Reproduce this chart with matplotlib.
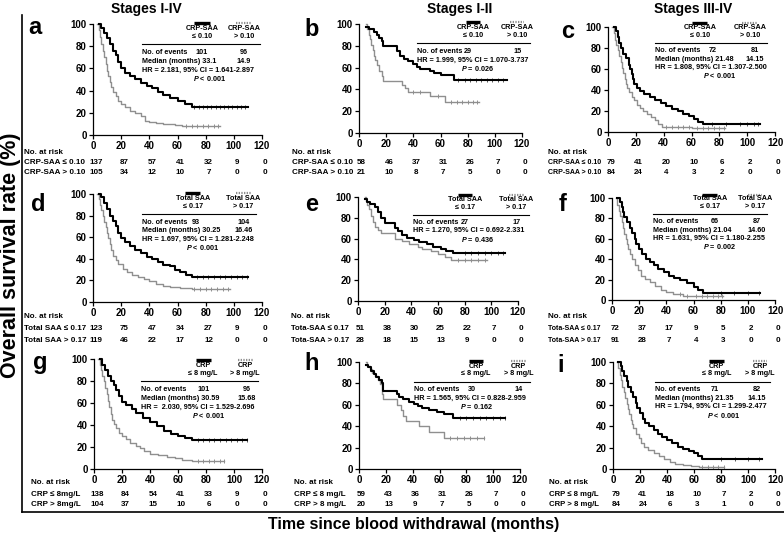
import numpy as np
import matplotlib
matplotlib.use("Agg")
import matplotlib.pyplot as plt
from matplotlib import font_manager, transforms
from matplotlib.lines import Line2D

# -- fonts -------------------------------------------------------------
_names = {f.name for f in font_manager.fontManager.ttflist}
FAM = "Liberation Sans Narrow" if "Liberation Sans Narrow" in _names else "Liberation Sans"
plt.rcParams["font.family"] = [FAM, "DejaVu Sans"]
plt.rcParams["font.weight"] = "bold"
plt.rcParams["mathtext.fontset"] = "custom"
plt.rcParams["mathtext.it"] = f"{FAM}:italic:bold"
plt.rcParams["mathtext.rm"] = f"{FAM}:bold"

W, H = 784, 535
GRAY = "#8f8f8f"

# -- data: step curves -------------------------------------------------
TICKS = [0, 20, 40, 60, 80, 100, 120]

# a: CRP-SAA, stages I-IV
a_low_t = [4, 6, 8, 10, 12, 14, 16, 18, 20, 23, 26, 30, 34, 38, 42, 46, 50, 55, 60, 65, 70, 110]
a_low_s = [100, 96, 92, 87, 82, 76, 72, 66, 60, 56, 53, 50, 47, 44, 42, 39, 36, 33, 31, 28, 25.5, 25.5]
a_high_t = [3, 4, 5, 6, 7, 8, 9, 10, 11, 12, 13, 14, 16, 18, 20, 23, 26, 30, 34, 37, 40, 45, 50, 58, 63, 90]
a_high_s = [100, 95, 88, 82, 76, 70, 64, 58, 53, 48, 43, 39, 35, 31, 28, 25, 22, 20, 17, 13, 12, 11, 10, 9, 8, 8]
a_low_cens = [72, 75, 78, 81, 84, 87, 90, 93, 96, 99, 102, 105, 108]
a_high_cens = [66, 70, 74, 78, 82, 86, 89]
a_risk_low = [137, 87, 57, 41, 32, 9, 0]
a_risk_high = [105, 34, 12, 10, 7, 0, 0]

# b: CRP-SAA, stages I-II
b_low_t = [5, 7, 11, 13, 15, 17, 18, 28, 30, 33, 36, 40, 43, 45, 52, 55, 60, 70, 109]
b_low_s = [97, 95, 93, 90, 87, 84, 80, 75, 71, 68, 66, 63, 61, 59, 57, 55, 53, 49, 49]
b_high_t = [5, 6, 7, 8, 9, 10, 11, 12, 13, 15, 17, 18, 32, 34, 36, 52, 63, 88]
b_high_s = [100, 95, 90, 86, 81, 76, 71, 67, 62, 57, 52, 48, 44, 41, 38, 34, 28.5, 28.5]
b_low_cens = [73, 78, 82, 86, 90, 94, 98, 102, 106]
b_high_cens = [40, 45, 58, 68, 72, 76, 80, 84, 87]
b_risk_low = [58, 46, 37, 31, 26, 7, 0]
b_risk_high = [21, 10, 8, 7, 5, 0, 0]

# c: CRP-SAA, stages III-IV
c_low_t = [4, 6, 7, 8, 9, 11, 13, 15, 16, 17, 18, 19, 21, 23, 26, 30, 34, 38, 42, 46, 50, 54, 58, 62, 65, 68, 109]
c_low_s = [100, 96, 90, 85, 80, 74, 70, 64, 60, 55, 50, 46, 42, 39, 36, 33, 30, 28, 25, 22, 20, 17, 15, 12, 10, 8, 8]
c_high_t = [3, 4, 5, 6, 7, 8, 9, 10, 11, 12, 13, 14, 15, 17, 19, 21, 23, 25, 28, 31, 34, 36, 39, 60, 84]
c_high_s = [100, 94, 88, 83, 78, 72, 67, 61, 56, 50, 46, 42, 38, 33, 30, 26, 23, 20, 17, 14, 11, 8, 5, 3.5, 3.5]
c_low_cens = [75, 85, 95, 100, 105, 108]
c_high_cens = [42, 46, 50, 54, 58, 64, 68, 72, 76, 80, 83]
c_risk_low = [79, 41, 20, 10, 6, 2, 0]
c_risk_high = [84, 24, 4, 3, 2, 0, 0]

# d: Total SAA, stages I-IV
d_low_t = [4, 6, 8, 10, 12, 14, 16, 18, 20, 23, 26, 30, 34, 38, 42, 46, 50, 55, 58, 62, 66, 70, 110]
d_low_s = [100, 97, 92, 86, 80, 75, 70, 64, 59, 56, 52, 48, 45, 42, 40, 37, 34, 33, 30, 28, 25, 23, 23]
d_high_t = [3, 4, 5, 6, 7, 8, 9, 10, 11, 12, 13, 14, 16, 18, 21, 24, 28, 32, 36, 40, 45, 50, 55, 62, 70, 97]
d_high_s = [100, 95, 90, 85, 80, 74, 69, 64, 59, 54, 48, 43, 39, 35, 31, 28, 25, 23, 21, 19, 17, 15, 14, 13, 12, 12]
d_low_cens = [74, 78, 82, 86, 90, 94, 98, 102, 106, 109]
d_high_cens = [72, 76, 80, 84, 88, 92, 96]
d_risk_low = [123, 75, 47, 34, 27, 9, 0]
d_risk_high = [119, 46, 22, 17, 12, 0, 0]

# e: Total SAA, stages I-II
e_low_t = [5, 7, 9, 13, 15, 17, 20, 28, 30, 33, 37, 42, 46, 52, 56, 62, 66, 71, 110]
e_low_s = [98, 95, 93, 90, 86, 80, 75, 70, 67, 63, 61, 59, 57, 55, 52, 50, 48, 46, 46]
e_high_t = [5, 6, 7, 8, 10, 11, 13, 15, 17, 28, 33, 38, 45, 48, 55, 60, 65, 70, 97]
e_high_s = [100, 96, 92, 88, 82, 76, 71, 68, 65, 60, 58, 55, 52, 50, 48, 45, 42, 39, 39]
e_low_cens = [80, 85, 90, 95, 100, 105, 109]
e_high_cens = [75, 80, 85, 90, 95]
e_risk_low = [51, 38, 30, 25, 22, 7, 0]
e_risk_high = [28, 18, 15, 13, 9, 0, 0]

# f: Total SAA, stages III-IV
f_low_t = [4, 6, 7, 8, 9, 11, 13, 15, 17, 18, 20, 22, 25, 28, 31, 34, 38, 42, 46, 50, 55, 60, 63, 67, 109]
f_low_s = [100, 96, 91, 86, 81, 76, 71, 66, 60, 55, 50, 45, 40, 37, 34, 30, 27, 24, 22, 20, 17, 13, 10, 7, 7]
f_high_t = [3, 4, 5, 6, 7, 8, 9, 10, 11, 12, 13, 15, 17, 19, 21, 24, 28, 32, 36, 40, 45, 52, 60, 82]
f_high_s = [100, 93, 87, 82, 76, 71, 65, 60, 55, 50, 45, 40, 34, 29, 24, 21, 18, 14, 10, 8, 6, 4, 3.5, 3.5]
f_low_cens = [80, 90, 100, 108]
f_high_cens = [50, 55, 62, 66, 70, 74, 78, 81]
f_risk_low = [72, 37, 17, 9, 5, 2, 0]
f_risk_high = [91, 28, 7, 4, 3, 0, 0]

# g: CRP, stages I-IV
g_low_t = [4, 6, 8, 10, 12, 14, 16, 18, 20, 23, 27, 30, 35, 40, 45, 50, 55, 60, 65, 70, 109]
g_low_s = [100, 95, 90, 85, 80, 76, 72, 66, 61, 58, 55, 51, 46, 43, 39, 35, 32, 30, 28, 26, 26]
g_high_t = [3, 4, 5, 6, 7, 8, 9, 10, 11, 12, 13, 14, 16, 18, 20, 23, 26, 30, 33, 36, 40, 46, 52, 58, 63, 70, 93]
g_high_s = [100, 95, 90, 85, 80, 74, 68, 62, 56, 50, 45, 41, 37, 33, 30, 27, 24, 21, 19, 16, 14, 13, 11, 10, 8, 7, 7]
g_low_cens = [74, 78, 82, 86, 90, 94, 98, 102, 106, 109]
g_high_cens = [74, 78, 82, 86, 90, 93]
g_risk_low = [138, 84, 54, 41, 33, 9, 0]
g_risk_high = [104, 37, 15, 10, 6, 0, 0]

# h: CRP, stages I-II
h_low_t = [5, 7, 9, 11, 13, 15, 17, 18, 28, 30, 33, 37, 41, 44, 47, 52, 58, 63, 70, 109]
h_low_s = [97, 95, 92, 89, 86, 83, 80, 73, 70, 67, 65, 63, 61, 59, 57, 55, 53, 51, 48, 48]
h_high_t = [5, 6, 8, 10, 12, 14, 16, 17, 18, 28, 31, 33, 35, 45, 52, 63, 93]
h_high_s = [100, 96, 93, 90, 87, 83, 79, 70, 65, 60, 55, 50, 45, 40, 35, 29, 29]
h_low_cens = [75, 80, 85, 90, 95, 100, 105, 109]
h_high_cens = [68, 73, 78, 83, 88, 93]
h_risk_low = [59, 43, 36, 31, 26, 7, 0]
h_risk_high = [20, 13, 9, 7, 5, 0, 0]

# i: CRP, stages III-IV
i_low_t = [4, 6, 7, 8, 10, 11, 13, 15, 17, 18, 20, 22, 24, 27, 30, 33, 36, 40, 44, 48, 52, 56, 60, 63, 66, 110]
i_low_s = [100, 96, 92, 87, 82, 77, 72, 67, 62, 57, 52, 47, 43, 40, 36, 33, 30, 27, 24, 21, 19, 17, 15, 12, 9, 9]
i_high_t = [3, 4, 5, 6, 7, 8, 9, 10, 11, 12, 13, 14, 15, 17, 19, 21, 23, 26, 30, 34, 38, 42, 46, 52, 58, 64, 82]
i_high_s = [100, 94, 88, 83, 77, 72, 66, 61, 56, 51, 46, 42, 38, 33, 29, 24, 21, 18, 15, 12, 9, 7, 5, 4, 3, 1.5, 1.5]
i_low_cens = [80, 90, 100, 108]
i_high_cens = [66, 70, 74, 78, 82]
i_risk_low = [79, 41, 18, 10, 7, 2, 0]
i_risk_high = [84, 24, 6, 3, 1, 0, 0]

# -- texts -------------------------------------------------------------
GROUP_LOW = ["CRP-SAA\n\u2264 0.10", "Total SAA\n\u2264 0.17", "CRP\n\u2264 8 mg/L"]
GROUP_HIGH = ["CRP-SAA\n> 0.10", "Total SAA\n> 0.17", "CRP\n> 8 mg/L"]
RISK_LABELS = {
    "a": ("CRP-SAA \u2264 0.10", "CRP-SAA > 0.10"),
    "b": ("CRP-SAA \u2264 0.10", "CRP-SAA > 0.10"),
    "c": ("CRP-SAA \u2264 0.10", "CRP-SAA > 0.10"),
    "d": ("Total SAA \u2264 0.17", "Total SAA > 0.17"),
    "e": ("Tota-SAA \u2264 0.17", "Tota-SAA > 0.17"),
    "f": ("Tota-SAA \u2264 0.17", "Tota-SAA > 0.17"),
    "g": ("CRP \u2264 8mg/L", "CRP > 8mg/L"),
    "h": ("CRP \u2264 8 mg/L", "CRP > 8 mg/L"),
    "i": ("CRP \u2264 8 mg/L", "CRP > 8 mg/L"),
}
EVENTS = {"a": (101, 96), "b": (29, 15), "c": (72, 81), "d": (93, 104), "e": (27, 17),
          "f": (66, 87), "g": (101, 96), "h": (30, 14), "i": (71, 82)}
MEDIANS = {"a": ("33.1", "14.9"), "c": ("21.48", "14.15"), "d": ("30.25", "16.46"),
           "f": ("21.04", "14.60"), "g": ("30.59", "15.68"), "i": ("21.35", "14.15")}
HR_TEXT = {
    "a": "HR = 2.181, 95% CI = 1.641-2.897",
    "b": "HR = 1.999, 95% CI = 1.070-3.737",
    "c": "HR = 1.808, 95% CI = 1.307-2.500",
    "d": "HR = 1.697, 95% CI = 1.281-2.248",
    "e": "HR = 1.270, 95% CI = 0.692-2.331",
    "f": "HR = 1.631, 95% CI = 1.180-2.255",
    "g": "HR =  2.030, 95% CI = 1.529-2.696",
    "h": "HR = 1.565, 95% CI = 0.828-2.959",
    "i": "HR = 1.794, 95% CI = 1.299-2.477",
}
P_TEXT = {"a": "< 0.001", "b": "= 0.026", "c": "< 0.001", "d": "< 0.001", "e": "= 0.436",
          "f": "= 0.002", "g": "< 0.001", "h": "= 0.162", "i": "< 0.001"}
STAGES = ["Stages I-IV", "Stages I-II", "Stages III-IV"]

# -- layout (pixels in the 784x535 picture) ---------------------------
# axes box: x at t=0, x at t=120, y at 100 %, y at 0 %
BOX = {"a": (93, 262, 24, 135), "b": (359, 522, 24, 133), "c": (608, 775, 27, 132),
       "d": (93, 262, 194, 302), "e": (358, 518, 197, 301), "f": (612, 775, 198, 300),
       "g": (94, 262, 359, 469), "h": (359, 520, 362, 469), "i": (613, 775, 362, 469)}
# stats block in axes fractions:
# left, rule right, legend col1, legend col2, value col1, value col2, P centre, rule y
BLOCK = {"a": (0.29, 0.99, 0.645, 0.893, 0.645, 0.893, 0.69, 0.82),
         "b": (0.356, 1.05, 0.70, 0.97, 0.67, 0.97, 0.73, 0.826),
         "c": (0.28, 0.95, 0.55, 0.85, 0.63, 0.88, 0.67, 0.85),
         "d": (0.288, 0.965, 0.59, 0.89, 0.61, 0.89, 0.65, 0.815),
         "e": (0.345, 1.07, 0.67, 0.99, 0.67, 0.99, 0.75, 0.83),
         "f": (0.25, 0.95, 0.60, 0.877, 0.63, 0.89, 0.66, 0.84),
         "g": (0.278, 0.977, 0.65, 0.90, 0.65, 0.91, 0.68, 0.80),
         "h": (0.342, 1.06, 0.727, 0.99, 0.70, 0.99, 0.73, 0.816),
         "i": (0.26, 0.97, 0.64, 0.907, 0.63, 0.89, 0.68, 0.816)}
RISK_X = {"a": 24, "b": 292, "c": 548, "d": 24, "e": 291, "f": 548, "g": 31, "h": 294, "i": 549}
RISK_FS = {"a": 5.8, "b": 5.8, "c": 5.0, "d": 5.8, "e": 5.6, "f": 5.0, "g": 5.8, "h": 5.8, "i": 5.6}
RISK_Y = [(152, 163, 173), (317, 328, 340), (483, 494, 504)]
LETTER_XY = {"a": (35, 28), "b": (312, 30), "c": (568, 32), "d": (38, 205), "e": (312, 205),
             "f": (563, 205), "g": (40, 362), "h": (312, 364), "i": (561, 366)}

fig = plt.figure(figsize=(W / 100, H / 100), dpi=100)


def fx(px):
    return px / W


def fy(py):
    return 1 - py / H


def step_value(ts, ss, t):
    idx = max(k for k, tk in enumerate(ts) if tk <= t)
    return ss[idx]


def draw_panel(key, row, col):
    x0, x1, yt, yb = BOX[key]
    ax = fig.add_axes([fx(x0), fy(yb), (x1 - x0) / W, (yb - yt) / H])
    g = globals()
    low_t, low_s = g[f"{key}_low_t"], g[f"{key}_low_s"]
    high_t, high_s = g[f"{key}_high_t"], g[f"{key}_high_s"]

    ax.step(high_t, high_s, where="post", color=GRAY, lw=1.0, clip_on=False, zorder=2)
    ax.step(low_t, low_s, where="post", color="black", lw=1.5, clip_on=False, zorder=3)
    hc = g[f"{key}_high_cens"]
    lc = g[f"{key}_low_cens"]
    ax.plot(hc, [step_value(high_t, high_s, t) for t in hc], ls="none", marker="|",
            ms=3, mew=0.7, color=GRAY, clip_on=False)
    ax.plot(lc, [step_value(low_t, low_s, t) for t in lc], ls="none", marker="|",
            ms=3, mew=0.7, color="#555555", clip_on=False)

    ax.set_xlim(0, 120)
    ax.set_ylim(0, 100)
    ax.set_xticks(TICKS)
    ax.set_yticks([0, 20, 40, 60, 80, 100])
    for s in ("top", "right"):
        ax.spines[s].set_visible(False)
    for s in ("left", "bottom"):
        ax.spines[s].set_linewidth(0.9)
    ax.tick_params(direction="out", length=3, width=0.9, pad=1.5, labelsize=7)
    for lab in ax.get_xticklabels() + ax.get_yticklabels():
        lab.set_fontweight("bold")

    # legend + stats block
    left, right, c1, c2, v1, v2, px_, ry = BLOCK[key]
    tr = ax.transAxes
    kw = dict(transform=tr, fontsize=5.2, fontweight="bold", clip_on=False)
    ax.plot([left, right], [ry, ry], transform=tr, color="black", lw=0.8, clip_on=False)
    ax.plot([c1 - 0.045, c1 + 0.045], [ry + 0.19, ry + 0.19], transform=tr,
            color="black", lw=2.4, clip_on=False, solid_capstyle="butt")
    ax.plot([c2 - 0.045, c2 + 0.045], [ry + 0.19, ry + 0.19], transform=tr,
            color=GRAY, lw=1.6, ls=(0, (0.6, 0.6)), clip_on=False)
    ax.text(c1, ry + 0.04, GROUP_LOW[row], ha="center", va="bottom",
            linespacing=1.15, **kw)
    ax.text(c2, ry + 0.04, GROUP_HIGH[row], ha="center", va="bottom",
            linespacing=1.15, **kw)

    lines_y = [ry - 0.075 - 0.08 * k for k in range(4)]
    k = 0
    ev1, ev2 = EVENTS[key]
    ax.text(left, lines_y[k], "No. of events", ha="left", va="center", **kw)
    ax.text(v1, lines_y[k], str(ev1), ha="center", va="center", **kw)
    ax.text(v2, lines_y[k], str(ev2), ha="center", va="center", **kw)
    k += 1
    if key in MEDIANS:
        m1, m2 = MEDIANS[key]
        ax.text(left, lines_y[k], f"Median (months) {m1}", ha="left", va="center", **kw)
        ax.text(v2, lines_y[k], m2, ha="center", va="center", **kw)
        k += 1
    ax.text(left, lines_y[k], HR_TEXT[key], ha="left", va="center", **kw)
    k += 1
    ax.text(px_, lines_y[k], r"$\mathit{P}$ " + P_TEXT[key], ha="center", va="center", **kw)

    # number at risk table
    ny, r1, r2 = RISK_Y[row]
    lx = RISK_X[key]
    fs = RISK_FS[key]
    fig.text(fx(lx), fy(ny), "No. at risk", ha="left", va="center", fontsize=5.8,
             fontweight="bold")
    lab_low, lab_high = RISK_LABELS[key]
    fig.text(fx(lx), fy(r1), lab_low, ha="left", va="center", fontsize=fs, fontweight="bold")
    fig.text(fx(lx), fy(r2), lab_high, ha="left", va="center", fontsize=fs, fontweight="bold")
    btr = transforms.blended_transform_factory(ax.transData, fig.transFigure)
    for t, n1, n2 in zip(TICKS, g[f"{key}_risk_low"], g[f"{key}_risk_high"]):
        fig.text(t + 2, fy(r1), str(n1), transform=btr, ha="center", va="center",
                 fontsize=5.8, fontweight="bold")
        fig.text(t + 2, fy(r2), str(n2), transform=btr, ha="center", va="center",
                 fontsize=5.8, fontweight="bold")

    lx_, ly_ = LETTER_XY[key]
    fig.text(fx(lx_), fy(ly_), key, ha="center", va="center", fontsize=17, fontweight="bold")
    return ax


for row, keys in enumerate(["abc", "def", "ghi"]):
    for col, key in enumerate(keys):
        draw_panel(key, row, col)

# column titles
for cx, title in zip([146, 460, 693], STAGES):
    fig.text(fx(cx), fy(9), title, ha="center", va="center", fontsize=10, fontweight="bold")

# frame
fig.add_artist(Line2D([fx(22), fx(22)], [fy(15), fy(512)], color="black", lw=1.2))
fig.add_artist(Line2D([fx(22), fx(784)], [fy(512), fy(512)], color="black", lw=1.2))

fig.text(fx(10.5), fy(255), "Overall survival rate (%)", rotation=90, ha="center",
         va="center", fontsize=15.5, fontweight="bold", family="Liberation Sans")
fig.text(fx(414), fy(525), "Time since blood withdrawal (months)", ha="center",
         va="center", fontsize=11.5, fontweight="bold")

fig.savefig("out.png", dpi=100)
